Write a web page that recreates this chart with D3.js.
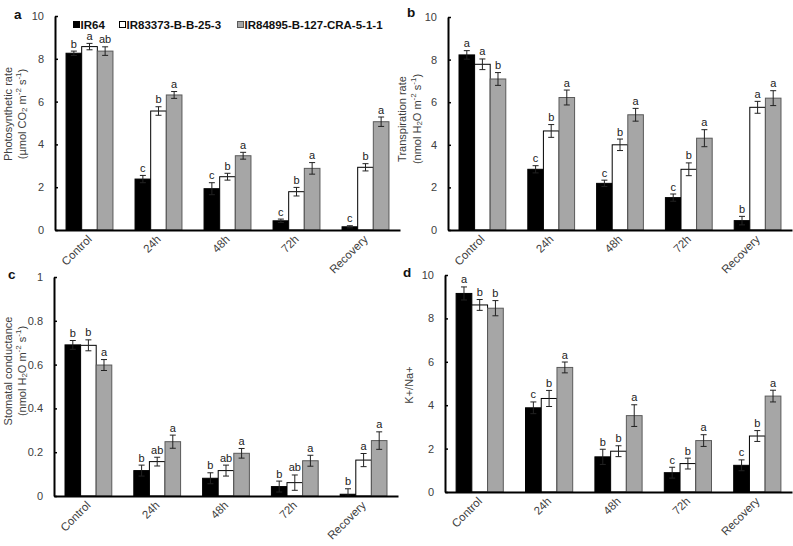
<!DOCTYPE html>
<html><head><meta charset="utf-8">
<script src="https://cdn.jsdelivr.net/npm/d3@7"></script>
<style>
body{margin:0;background:#fff}
text{font-family:"Liberation Sans",Arial,sans-serif}
</style>
</head><body>
<svg id="chart" width="793" height="546"></svg>
<script>
// ---------- data ----------
const categories = ["Control", "24h", "48h", "72h", "Recovery"];
const seriesNames = ["IR64", "IR83373-B-B-25-3", "IR84895-B-127-CRA-5-1-1"];

// a: Photosynthetic rate
const photoIR64 = [8.26, 2.38, 1.93, 0.43, 0.15];
const photoIR83373 = [8.57, 5.56, 2.49, 1.79, 2.93];
const photoIR84895 = [8.36, 6.31, 3.47, 2.88, 5.06];
const photoErrIR64 = [0.10, 0.17, 0.28, 0.08, 0.05];
const photoErrIR83373 = [0.15, 0.20, 0.16, 0.20, 0.17];
const photoErrIR84895 = [0.20, 0.16, 0.16, 0.27, 0.22];
const photoLetters = [["b","a","ab"],["c","b","a"],["c","b","a"],["c","b","a"],["c","b","a"]];

// b: Transpiration rate
const transIR64 = [8.22, 2.85, 2.19, 1.52, 0.44];
const transIR83373 = [7.78, 4.65, 4.00, 2.85, 5.76];
const transIR84895 = [7.09, 6.22, 5.41, 4.31, 6.19];
const transErrIR64 = [0.20, 0.17, 0.15, 0.17, 0.20];
const transErrIR83373 = [0.25, 0.30, 0.27, 0.30, 0.28];
const transErrIR84895 = [0.30, 0.35, 0.30, 0.40, 0.35];
const transLetters = [["a","a","b"],["c","b","a"],["c","b","a"],["c","b","a"],["b","a","a"]];

// c: Stomatal conductance
const stomIR64 = [0.690, 0.116, 0.081, 0.043, 0.008];
const stomIR83373 = [0.688, 0.157, 0.116, 0.061, 0.164];
const stomIR84895 = [0.598, 0.248, 0.195, 0.161, 0.253];
const stomErrIR64 = [0.020, 0.025, 0.025, 0.025, 0.025];
const stomErrIR83373 = [0.025, 0.020, 0.025, 0.035, 0.030];
const stomErrIR84895 = [0.025, 0.030, 0.022, 0.025, 0.040];
const stomLetters = [["b","b","a"],["b","ab","a"],["b","ab","a"],["b","ab","a"],["b","a","a"]];

// d: K+/Na+
const knaIR64 = [9.15, 3.88, 1.62, 0.89, 1.23];
const knaIR83373 = [8.62, 4.31, 1.88, 1.31, 2.58];
const knaIR84895 = [8.47, 5.74, 3.52, 2.37, 4.42];
const knaErrIR64 = [0.30, 0.27, 0.35, 0.25, 0.25];
const knaErrIR83373 = [0.25, 0.37, 0.25, 0.25, 0.25];
const knaErrIR84895 = [0.35, 0.25, 0.50, 0.27, 0.27];
const knaLetters = [["a","b","b"],["c","b","a"],["b","b","a"],["c","b","a"],["c","b","a"]];

const ticksTen = [0, 2, 4, 6, 8, 10];
const ticksOne = [0, 0.2, 0.4, 0.6, 0.8, 1];

// ---------- drawing ----------
const svg = d3.select("#chart");
const fills = ["#000000", "#ffffff", "#a6a6a6"];
const strokes = ["#000000", "#000000", "#5a5a5a"];

const panels = [
  {label:"a", lx:14, ly:18.5, x0:55, x1:400, y0:230, y1:16, max:10, ticks:ticksTen,
   vals:[photoIR64, photoIR83373, photoIR84895], errs:[photoErrIR64, photoErrIR83373, photoErrIR84895], letters:photoLetters,
   title:[[{t:"Photosynthetic rate"}],[{t:"(µmol CO"},{t:"2",sub:1},{t:" m"},{t:"-2",sup:1},{t:" s"},{t:"-1",sup:1},{t:")"}]],
   tx:[8,22], tcy:114},
  {label:"b", lx:407, ly:17, x0:448, x1:792, y0:230, y1:17, max:10, ticks:ticksTen,
   vals:[transIR64, transIR83373, transIR84895], errs:[transErrIR64, transErrIR83373, transErrIR84895], letters:transLetters,
   title:[[{t:"Transpiration rate"}],[{t:"(nmol H"},{t:"2",sub:1},{t:"O m"},{t:"-2",sup:1},{t:" s"},{t:"-1",sup:1},{t:")"}]],
   tx:[402,417], tcy:119},
  {label:"c", lx:8, ly:279, x0:54, x1:398, y0:496, y1:277, max:1, ticks:ticksOne,
   vals:[stomIR64, stomIR83373, stomIR84895], errs:[stomErrIR64, stomErrIR83373, stomErrIR84895], letters:stomLetters,
   title:[[{t:"Stomatal conductance"}],[{t:"(nmol H"},{t:"2",sub:1},{t:"O m"},{t:"-2",sup:1},{t:" s"},{t:"-1",sup:1},{t:")"}]],
   tx:[8,22], tcy:371},
  {label:"d", lx:403, ly:277, x0:445, x1:792, y0:492, y1:275, max:10, ticks:ticksTen,
   vals:[knaIR64, knaIR83373, knaIR84895], errs:[knaErrIR64, knaErrIR83373, knaErrIR84895], letters:knaLetters,
   title:[[{t:"K+/Na+"}]],
   tx:[409], tcy:385}
];

panels.forEach(p => {
  const g = svg.append("g");
  const x = d3.scaleBand().domain(categories).range([p.x0, p.x1]).paddingInner(0.32).paddingOuter(0.16);
  const y = d3.scaleLinear().domain([0, p.max]).range([p.y0, p.y1]);
  const sub = d3.scaleBand().domain(d3.range(seriesNames.length)).range([0, x.bandwidth()]);

  // bars
  p.vals.forEach((arr, s) => {
    g.selectAll(null).data(arr).join("rect")
      .attr("x", (d, i) => x(categories[i]) + sub(s))
      .attr("y", d => y(d))
      .attr("width", sub.bandwidth())
      .attr("height", d => p.y0 - y(d))
      .attr("fill", fills[s])
      .attr("stroke", strokes[s])
      .attr("stroke-width", 1);
  });
  // error bars and letters
  p.vals.forEach((arr, s) => {
    arr.forEach((v, i) => {
      const e = p.errs[s][i];
      const cx = x(categories[i]) + sub(s) + sub.bandwidth() / 2;
      const yt = y(v + e), yb = y(Math.max(0, v - e));
      const eg = g.append("g").attr("stroke", "#222").attr("stroke-width", 1);
      eg.append("line").attr("x1", cx).attr("x2", cx).attr("y1", yt).attr("y2", yb);
      eg.append("line").attr("x1", cx - 3).attr("x2", cx + 3).attr("y1", yt).attr("y2", yt);
      eg.append("line").attr("x1", cx - 3).attr("x2", cx + 3).attr("y1", yb).attr("y2", yb);
      g.append("text").attr("x", cx).attr("y", yt - 3.5).attr("text-anchor", "middle")
        .attr("font-size", 11).attr("fill", "#222").text(p.letters[i][s]);
    });
  });

  // y axis
  const ya = g.append("g").attr("transform", `translate(${p.x0},0)`)
    .call(d3.axisLeft(y).tickValues(p.ticks).tickSize(-3).tickSizeOuter(0).tickPadding(11).tickFormat(d3.format("~g")));
  ya.select(".domain").attr("stroke", "#000").attr("stroke-width", 2);
  ya.selectAll(".tick line").attr("stroke", "#000").attr("stroke-width", 1.5);
  ya.selectAll(".tick text").attr("font-size", 11).attr("fill", "#404040").style("font-family", "'Liberation Sans',Arial,sans-serif");

  // x axis
  const xa = g.append("g").attr("transform", `translate(0,${p.y0})`)
    .call(d3.axisBottom(x).tickSize(0).tickSizeOuter(0));
  xa.select(".domain").attr("stroke", "#000").attr("stroke-width", 2);
  xa.selectAll(".tick text").attr("x", 0).attr("y", 0).attr("dy", 0)
    .attr("transform", "translate(3,10) rotate(-45)")
    .style("text-anchor", "end")
    .attr("font-size", 11.5).attr("fill", "#404040").style("font-family", "'Liberation Sans',Arial,sans-serif");

  // y title
  p.title.forEach((line, li) => {
    const t = g.append("text")
      .attr("transform", `translate(${p.tx[li]},${p.tcy}) rotate(-90)`)
      .attr("text-anchor", "middle").attr("dominant-baseline", "central")
      .attr("font-size", 11).attr("fill", "#404040");
    line.forEach(part => {
      const ts = t.append("tspan").text(part.t);
      if (part.sub) ts.attr("font-size", 8).attr("baseline-shift", "-25%");
      if (part.sup) ts.attr("font-size", 8).attr("baseline-shift", "45%");
    });
  });

  // panel label
  svg.append("text").attr("x", p.lx).attr("y", p.ly).attr("font-size", 13.5)
    .attr("font-weight", "bold").attr("fill", "#111").text(p.label);
});

// legend (panel a)
const legendX = [73, 119, 237];
const lg = svg.append("g");
seriesNames.forEach((n, s) => {
  lg.append("rect").attr("x", legendX[s] + 0.5).attr("y", 21.5).attr("width", 6).attr("height", 6)
    .attr("fill", fills[s]).attr("stroke", strokes[s]).attr("stroke-width", 1);
  lg.append("text").attr("x", legendX[s] + 7.5).attr("y", 29).attr("font-size", 11.5)
    .attr("font-weight", "bold").attr("fill", "#111").text(n);
});
</script>
</body></html>
